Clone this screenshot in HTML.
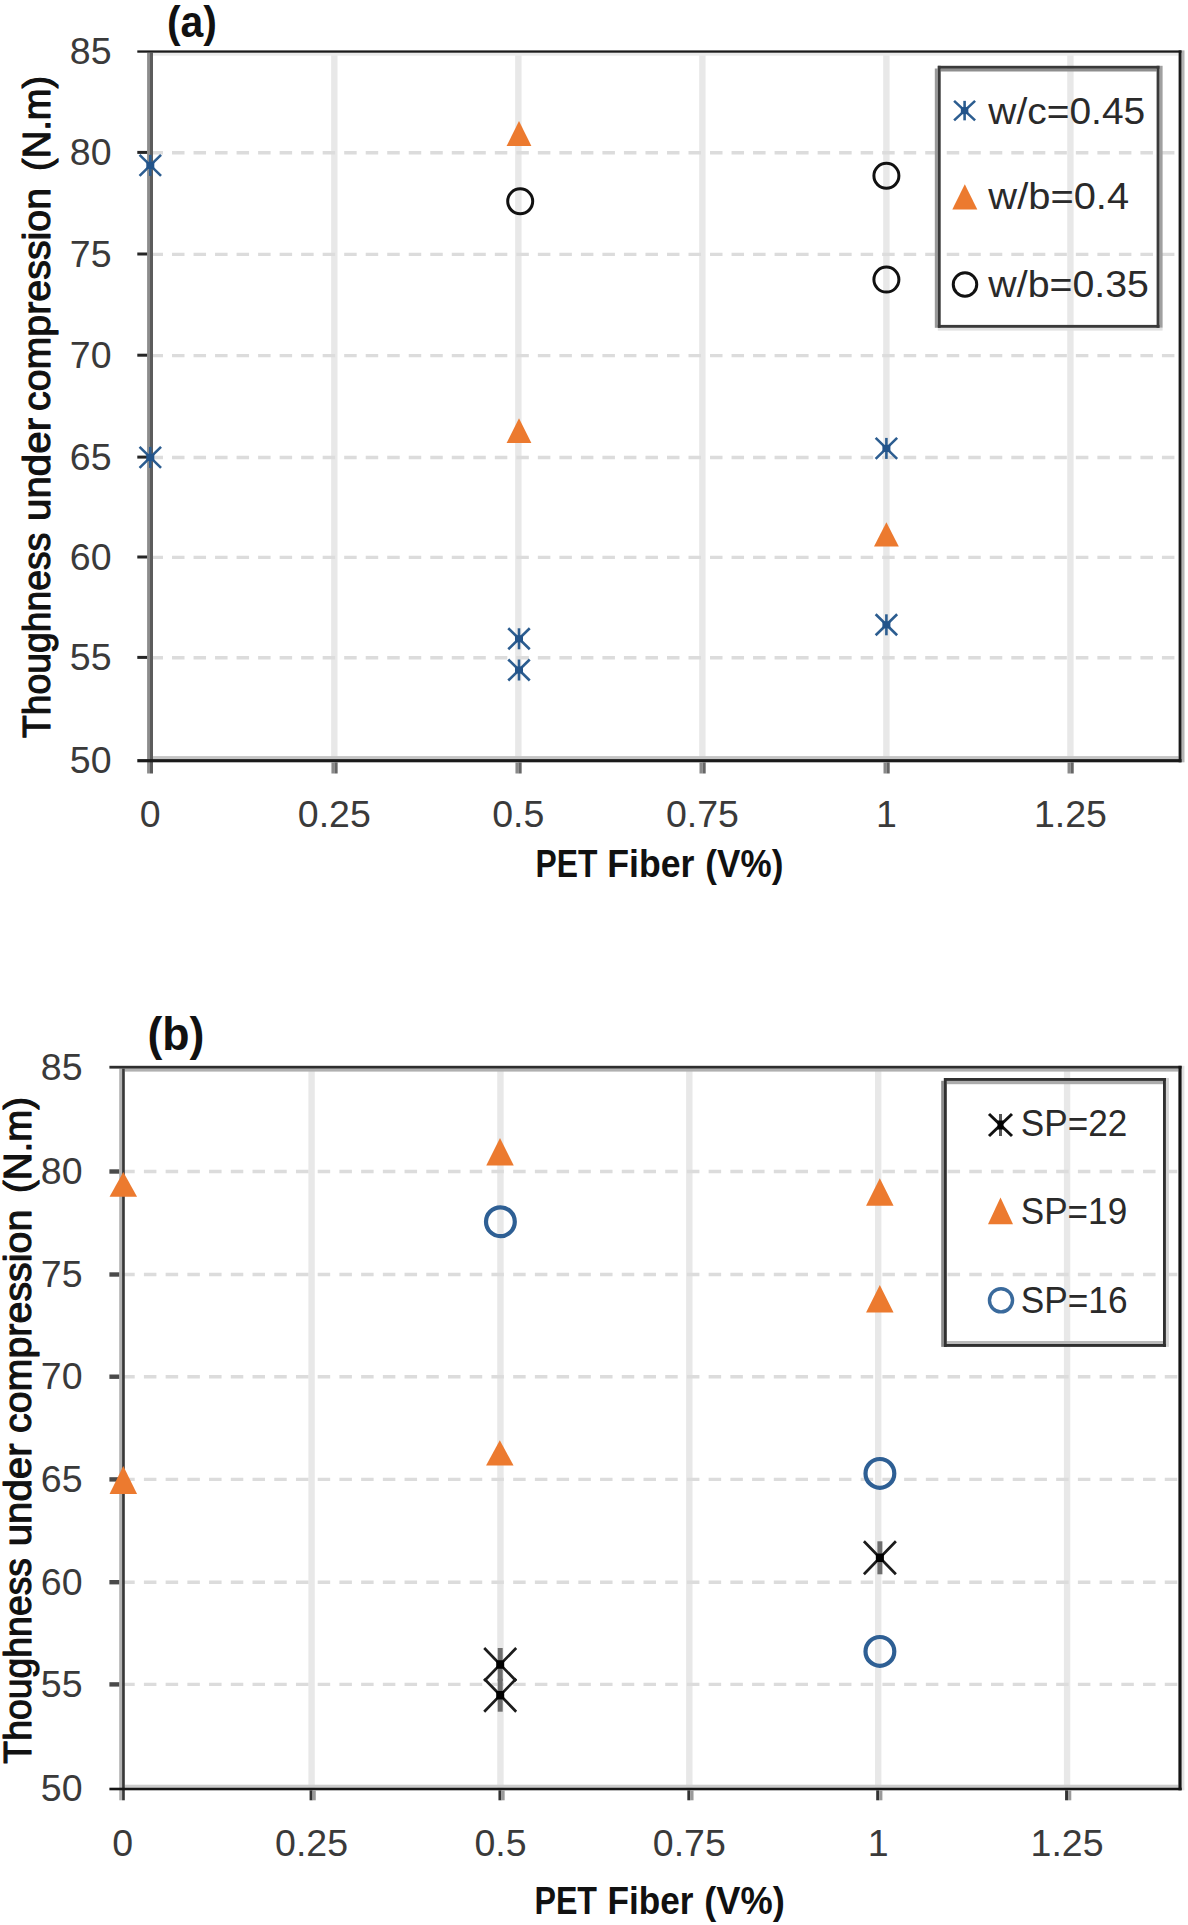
<!DOCTYPE html>
<html><head><meta charset="utf-8"><title>Toughness charts</title>
<style>
html,body{margin:0;padding:0;background:#fff;}
body{width:1188px;height:1925px;overflow:hidden;}
svg{display:block;}
text{font-family:"Liberation Sans",sans-serif;}
.tl{font-size:37.5px;fill:#3a3a3a;}
.lg{font-size:37.5px;fill:#2a2a2a;}
.at{font-size:38.5px;fill:#111;stroke:#111;stroke-width:1.1px;stroke-linejoin:round;}
.ab{font-size:38.5px;font-weight:bold;fill:#111;}
.ttl{font-size:44px;font-weight:bold;fill:#111;}
</style></head>
<body>
<svg width="1188" height="1925" viewBox="0 0 1188 1925">
<rect width="1188" height="1925" fill="#fff"/>
<rect x="331.13" y="52.7" width="6.4" height="706.4" fill="#e8e8e8"/>
<rect x="515.15" y="52.7" width="6.4" height="706.4" fill="#e8e8e8"/>
<rect x="699.17" y="52.7" width="6.4" height="706.4" fill="#e8e8e8"/>
<rect x="883.2" y="52.7" width="6.4" height="706.4" fill="#e8e8e8"/>
<rect x="1067.22" y="52.7" width="6.4" height="706.4" fill="#e8e8e8"/>
<line x1="150.5" y1="152.8" x2="1178.1" y2="152.8" stroke="#dcdcdc" stroke-width="3.4" stroke-dasharray="12.5 9.02"/>
<line x1="150.5" y1="254.4" x2="1178.1" y2="254.4" stroke="#dcdcdc" stroke-width="3.4" stroke-dasharray="12.5 9.02"/>
<line x1="150.5" y1="355.6" x2="1178.1" y2="355.6" stroke="#dcdcdc" stroke-width="3.4" stroke-dasharray="12.5 9.02"/>
<line x1="150.5" y1="457.5" x2="1178.1" y2="457.5" stroke="#dcdcdc" stroke-width="3.4" stroke-dasharray="12.5 9.02"/>
<line x1="150.5" y1="557.4" x2="1178.1" y2="557.4" stroke="#dcdcdc" stroke-width="3.4" stroke-dasharray="12.5 9.02"/>
<line x1="150.5" y1="657.8" x2="1178.1" y2="657.8" stroke="#dcdcdc" stroke-width="3.4" stroke-dasharray="12.5 9.02"/>
<rect x="153" y="52.7" width="1025.6" height="3" fill="#ebebeb"/>
<rect x="153" y="756.1" width="1025.6" height="3" fill="#c4c4c4"/>
<rect x="1181.5" y="50.4" width="3" height="711.9" fill="#b4b4b4"/>
<rect x="147.1" y="52.7" width="2.9" height="720.8" fill="#8c8c8c"/>
<rect x="150" y="52.7" width="3" height="720.8" fill="#5c5c5c"/>
<rect x="137.3" y="150.9" width="9.8" height="3" fill="#262626"/>
<rect x="137.3" y="252.5" width="9.8" height="3" fill="#262626"/>
<rect x="137.3" y="353.7" width="9.8" height="3" fill="#262626"/>
<rect x="137.3" y="455.6" width="9.8" height="3" fill="#262626"/>
<rect x="137.3" y="555.5" width="9.8" height="3" fill="#262626"/>
<rect x="137.3" y="655.9" width="9.8" height="3" fill="#262626"/>
<rect x="137.3" y="50.4" width="1044.2" height="2.3" fill="#1a1a1a"/>
<rect x="137.3" y="759.1" width="1044.2" height="3.2" fill="#1a1a1a"/>
<rect x="1178.6" y="50.4" width="2.9" height="711.9" fill="#1a1a1a"/>
<rect x="331.43" y="762.3" width="3" height="11.2" fill="#8a8a8a"/>
<rect x="334.43" y="762.3" width="3.2" height="11.2" fill="#666666"/>
<rect x="515.45" y="762.3" width="3" height="11.2" fill="#8a8a8a"/>
<rect x="518.45" y="762.3" width="3.2" height="11.2" fill="#666666"/>
<rect x="699.48" y="762.3" width="3" height="11.2" fill="#8a8a8a"/>
<rect x="702.48" y="762.3" width="3.2" height="11.2" fill="#666666"/>
<rect x="883.5" y="762.3" width="3" height="11.2" fill="#8a8a8a"/>
<rect x="886.5" y="762.3" width="3.2" height="11.2" fill="#666666"/>
<rect x="1067.52" y="762.3" width="3" height="11.2" fill="#8a8a8a"/>
<rect x="1070.52" y="762.3" width="3.2" height="11.2" fill="#666666"/>
<text x="111.5" y="64" text-anchor="end" class="tl">85</text>
<text x="111.5" y="165.3" text-anchor="end" class="tl">80</text>
<text x="111.5" y="266.9" text-anchor="end" class="tl">75</text>
<text x="111.5" y="368.1" text-anchor="end" class="tl">70</text>
<text x="111.5" y="470" text-anchor="end" class="tl">65</text>
<text x="111.5" y="569.9" text-anchor="end" class="tl">60</text>
<text x="111.5" y="670.3" text-anchor="end" class="tl">55</text>
<text x="111.5" y="773" text-anchor="end" class="tl">50</text>
<text x="150.3" y="827" text-anchor="middle" class="tl">0</text>
<text x="334.33" y="827" text-anchor="middle" class="tl">0.25</text>
<text x="518.35" y="827" text-anchor="middle" class="tl">0.5</text>
<text x="702.38" y="827" text-anchor="middle" class="tl">0.75</text>
<text x="886.4" y="827" text-anchor="middle" class="tl">1</text>
<text x="1070.42" y="827" text-anchor="middle" class="tl">1.25</text>
<text x="167" y="36.5" class="ttl" textLength="50" lengthAdjust="spacingAndGlyphs">(a)</text>
<text transform="translate(49.7 737.2) rotate(-90)" x="-0.84" y="0" class="at" textLength="205.39" lengthAdjust="spacingAndGlyphs">Thoughness</text>
<text transform="translate(49.7 518.4) rotate(-90)" x="-2.62" y="0" class="at" textLength="103.09" lengthAdjust="spacingAndGlyphs">under</text>
<text transform="translate(49.7 409.3) rotate(-90)" x="-1.67" y="0" class="at" textLength="223.03" lengthAdjust="spacingAndGlyphs">compression</text>
<text transform="translate(49.7 168.7) rotate(-90)" x="-2.36" y="0" class="at" textLength="95.23" lengthAdjust="spacingAndGlyphs">(N.m)</text>
<text x="535.57" y="876.6" class="ab" textLength="61.87" lengthAdjust="spacingAndGlyphs">PET</text>
<text x="607.32" y="876.6" class="ab" textLength="87.12" lengthAdjust="spacingAndGlyphs">Fiber</text>
<text x="705.35" y="876.6" class="ab" textLength="78" lengthAdjust="spacingAndGlyphs">(V%)</text>
<rect x="934.8" y="68.5" width="3" height="259.3" fill="#9a9a9a"/>
<rect x="940.7" y="68.6" width="215.9" height="2.9" fill="#8e8e8e"/>
<rect x="1159.5" y="65.8" width="3.1" height="262" fill="#a0a0a0"/>
<rect x="937.8" y="327.8" width="224.8" height="2.8" fill="#e2e2e2"/>
<rect x="937.8" y="65.8" width="221.7" height="2.9" fill="#3a3a3a"/>
<rect x="937.8" y="324.9" width="221.7" height="2.9" fill="#3a3a3a"/>
<rect x="937.8" y="65.8" width="2.9" height="262" fill="#3a3a3a"/>
<rect x="1156.6" y="65.8" width="2.9" height="262" fill="#3a3a3a"/>
<path d="M954.1 100.85L975.1 120.35M975.1 100.85L954.1 120.35" stroke="#2c5d90" stroke-width="2.6" fill="none"/><path d="M964.6 100.85L964.6 120.35" stroke="#2c5d90" stroke-width="2.6" fill="none"/><rect x="960.85" y="107.1" width="7.5" height="7" fill="#23548a"/>
<path d="M964.8 184.3L977.3 209.4L952.3 209.4Z" fill="#ec7a2f"/>
<circle cx="965" cy="284.5" r="11.75" fill="none" stroke="#111" stroke-width="3"/>
<text x="988.36" y="124.3" class="lg" textLength="156.88" lengthAdjust="spacingAndGlyphs">w/c=0.45</text>
<text x="988.36" y="209.4" class="lg" textLength="140.71" lengthAdjust="spacingAndGlyphs">w/b=0.4</text>
<text x="988.36" y="296.7" class="lg" textLength="160.59" lengthAdjust="spacingAndGlyphs">w/b=0.35</text>
<path d="M139.55 154.9L161.05 175.9M161.05 154.9L139.55 175.9" stroke="#2c5d90" stroke-width="2.6" fill="none"/><path d="M150.3 154.9L150.3 175.9" stroke="#2c5d90" stroke-width="2.6" fill="none"/><rect x="146.3" y="161.9" width="8" height="7" fill="#23548a"/>
<path d="M139.55 446.9L161.05 467.9M161.05 446.9L139.55 467.9" stroke="#2c5d90" stroke-width="2.6" fill="none"/><path d="M150.3 446.9L150.3 467.9" stroke="#2c5d90" stroke-width="2.6" fill="none"/><rect x="146.3" y="453.9" width="8" height="7" fill="#23548a"/>
<path d="M508.25 628.3L529.75 649.3M529.75 628.3L508.25 649.3" stroke="#2c5d90" stroke-width="2.6" fill="none"/><path d="M519 628.3L519 649.3" stroke="#2c5d90" stroke-width="2.6" fill="none"/><rect x="515" y="635.3" width="8" height="7" fill="#23548a"/>
<path d="M508.25 659.5L529.75 680.5M529.75 659.5L508.25 680.5" stroke="#2c5d90" stroke-width="2.6" fill="none"/><path d="M519 659.5L519 680.5" stroke="#2c5d90" stroke-width="2.6" fill="none"/><rect x="515" y="666.5" width="8" height="7" fill="#23548a"/>
<path d="M875.65 437.9L897.15 458.9M897.15 437.9L875.65 458.9" stroke="#2c5d90" stroke-width="2.6" fill="none"/><path d="M886.4 437.9L886.4 458.9" stroke="#2c5d90" stroke-width="2.6" fill="none"/><rect x="882.4" y="444.9" width="8" height="7" fill="#23548a"/>
<path d="M875.65 614.3L897.15 635.3M897.15 614.3L875.65 635.3" stroke="#2c5d90" stroke-width="2.6" fill="none"/><path d="M886.4 614.3L886.4 635.3" stroke="#2c5d90" stroke-width="2.6" fill="none"/><rect x="882.4" y="621.3" width="8" height="7" fill="#23548a"/>
<path d="M519 121L531.4 146L506.6 146Z" fill="#ec7a2f"/>
<path d="M519 418.2L531.4 443.1L506.6 443.1Z" fill="#ec7a2f"/>
<path d="M886.4 522.2L898.8 546.6L874 546.6Z" fill="#ec7a2f"/>
<circle cx="520.2" cy="201.3" r="12.5" fill="none" stroke="#111" stroke-width="3"/>
<circle cx="886.4" cy="175.8" r="12.5" fill="none" stroke="#111" stroke-width="3"/>
<circle cx="886.4" cy="279.6" r="12.5" fill="none" stroke="#111" stroke-width="3"/>
<rect x="308.38" y="1068.6" width="6.4" height="719.1" fill="#e8e8e8"/>
<rect x="497.25" y="1068.6" width="6.4" height="719.1" fill="#e8e8e8"/>
<rect x="686.12" y="1068.6" width="6.4" height="719.1" fill="#e8e8e8"/>
<rect x="875" y="1068.6" width="6.4" height="719.1" fill="#e8e8e8"/>
<rect x="1063.88" y="1068.6" width="6.4" height="719.1" fill="#e8e8e8"/>
<line x1="122.2" y1="1171.5" x2="1177.9" y2="1171.5" stroke="#dcdcdc" stroke-width="3.4" stroke-dasharray="12.5 9.22"/>
<line x1="122.2" y1="1274.5" x2="1177.9" y2="1274.5" stroke="#dcdcdc" stroke-width="3.4" stroke-dasharray="12.5 9.22"/>
<line x1="122.2" y1="1376.7" x2="1177.9" y2="1376.7" stroke="#dcdcdc" stroke-width="3.4" stroke-dasharray="12.5 9.22"/>
<line x1="122.2" y1="1479.4" x2="1177.9" y2="1479.4" stroke="#dcdcdc" stroke-width="3.4" stroke-dasharray="12.5 9.22"/>
<line x1="122.2" y1="1582.2" x2="1177.9" y2="1582.2" stroke="#dcdcdc" stroke-width="3.4" stroke-dasharray="12.5 9.22"/>
<line x1="122.2" y1="1684.4" x2="1177.9" y2="1684.4" stroke="#dcdcdc" stroke-width="3.4" stroke-dasharray="12.5 9.22"/>
<rect x="124.8" y="1068.6" width="1053.6" height="3" fill="#b0b0b0"/>
<rect x="124.8" y="1784.7" width="1053.6" height="3" fill="#cccccc"/>
<rect x="1181.6" y="1065.8" width="2.8" height="724.5" fill="#e0e0e0"/>
<rect x="119.2" y="1068.6" width="2.9" height="731.7" fill="#b4b4b4"/>
<rect x="122.1" y="1068.6" width="2.7" height="731.7" fill="#383838"/>
<rect x="109.4" y="1169.3" width="9.8" height="4.4" fill="#4a4a4a"/>
<rect x="109.4" y="1272.3" width="9.8" height="4.4" fill="#4a4a4a"/>
<rect x="109.4" y="1374.5" width="9.8" height="4.4" fill="#4a4a4a"/>
<rect x="109.4" y="1477.2" width="9.8" height="4.4" fill="#4a4a4a"/>
<rect x="109.4" y="1580" width="9.8" height="4.4" fill="#4a4a4a"/>
<rect x="109.4" y="1682.2" width="9.8" height="4.4" fill="#4a4a4a"/>
<rect x="109.4" y="1065.8" width="1072.2" height="2.8" fill="#2e2e2e"/>
<rect x="109.4" y="1787.7" width="1072.2" height="2.6" fill="#151515"/>
<rect x="1178.4" y="1065.8" width="3.2" height="724.5" fill="#151515"/>
<rect x="309.57" y="1790.3" width="3" height="10" fill="#333333"/>
<rect x="312.57" y="1790.3" width="3.2" height="10" fill="#9a9a9a"/>
<rect x="498.45" y="1790.3" width="3" height="10" fill="#333333"/>
<rect x="501.45" y="1790.3" width="3.2" height="10" fill="#9a9a9a"/>
<rect x="687.33" y="1790.3" width="3" height="10" fill="#333333"/>
<rect x="690.33" y="1790.3" width="3.2" height="10" fill="#9a9a9a"/>
<rect x="876.2" y="1790.3" width="3" height="10" fill="#333333"/>
<rect x="879.2" y="1790.3" width="3.2" height="10" fill="#9a9a9a"/>
<rect x="1065.08" y="1790.3" width="3" height="10" fill="#333333"/>
<rect x="1068.08" y="1790.3" width="3.2" height="10" fill="#9a9a9a"/>
<text x="82.5" y="1079.6" text-anchor="end" class="tl">85</text>
<text x="82.5" y="1183.9" text-anchor="end" class="tl">80</text>
<text x="82.5" y="1286.9" text-anchor="end" class="tl">75</text>
<text x="82.5" y="1389.1" text-anchor="end" class="tl">70</text>
<text x="82.5" y="1491.8" text-anchor="end" class="tl">65</text>
<text x="82.5" y="1594.6" text-anchor="end" class="tl">60</text>
<text x="82.5" y="1696.8" text-anchor="end" class="tl">55</text>
<text x="82.5" y="1801.3" text-anchor="end" class="tl">50</text>
<text x="122.7" y="1856.3" text-anchor="middle" class="tl">0</text>
<text x="311.57" y="1856.3" text-anchor="middle" class="tl">0.25</text>
<text x="500.45" y="1856.3" text-anchor="middle" class="tl">0.5</text>
<text x="689.33" y="1856.3" text-anchor="middle" class="tl">0.75</text>
<text x="878.2" y="1856.3" text-anchor="middle" class="tl">1</text>
<text x="1067.08" y="1856.3" text-anchor="middle" class="tl">1.25</text>
<text x="147.5" y="1049.6" class="ttl" style="font-size:46px" textLength="57" lengthAdjust="spacingAndGlyphs">(b)</text>
<text transform="translate(31.1 1762.8) rotate(-90)" x="-0.84" y="0" class="at" textLength="205.69" lengthAdjust="spacingAndGlyphs">Thoughness</text>
<text transform="translate(31.1 1543.7) rotate(-90)" x="-2.61" y="0" class="at" textLength="102.98" lengthAdjust="spacingAndGlyphs">under</text>
<text transform="translate(31.1 1431.4) rotate(-90)" x="-1.68" y="0" class="at" textLength="223.54" lengthAdjust="spacingAndGlyphs">compression</text>
<text transform="translate(31.1 1190.6) rotate(-90)" x="-2.38" y="0" class="at" textLength="95.96" lengthAdjust="spacingAndGlyphs">(N.m)</text>
<text x="534.45" y="1914.3" class="ab" textLength="62.6" lengthAdjust="spacingAndGlyphs">PET</text>
<text x="607.55" y="1914.3" class="ab" textLength="85.99" lengthAdjust="spacingAndGlyphs">Fiber</text>
<text x="704.3" y="1914.3" class="ab" textLength="80.51" lengthAdjust="spacingAndGlyphs">(V%)</text>
<rect x="941.2" y="1080.8" width="2.7" height="266.1" fill="#8a8a8a"/>
<rect x="946.8" y="1080.8" width="216.2" height="3.4" fill="#ababab"/>
<rect x="1165.9" y="1078" width="3" height="268.9" fill="#d4d4d4"/>
<rect x="946.8" y="1341" width="216.2" height="3" fill="#bbbbbb"/>
<rect x="943.9" y="1078" width="222" height="2.9" fill="#303030"/>
<rect x="943.9" y="1344" width="222" height="2.9" fill="#303030"/>
<rect x="943.9" y="1078" width="2.9" height="268.9" fill="#303030"/>
<rect x="1163" y="1078" width="2.9" height="268.9" fill="#303030"/>
<path d="M989 1114L1012 1136M1012 1114L989 1136" stroke="#111" stroke-width="3" fill="none"/><path d="M1000.5 1114L1000.5 1136" stroke="#555" stroke-width="3" fill="none"/><rect x="997.5" y="1120.5" width="6" height="9" fill="#000"/>
<path d="M1000.5 1197.6L1013 1224.3L988 1224.3Z" fill="#ec7a2f"/>
<circle cx="1001" cy="1300.3" r="11.55" fill="none" stroke="#3a6a9c" stroke-width="3.4"/>
<text x="1020.8" y="1136.3" class="lg" textLength="106.46" lengthAdjust="spacingAndGlyphs">SP=22</text>
<text x="1020.81" y="1224" class="lg" textLength="106.36" lengthAdjust="spacingAndGlyphs">SP=19</text>
<text x="1020.8" y="1313" class="lg" textLength="106.75" lengthAdjust="spacingAndGlyphs">SP=16</text>
<path d="M484.2 1648L516.2 1681M516.2 1648L484.2 1681" stroke="#1c1c1c" stroke-width="2.7" fill="none"/><path d="M500.2 1648L500.2 1681" stroke="#6e6e6e" stroke-width="5" fill="none"/><rect x="496.2" y="1660.25" width="8" height="8.5" fill="#000"/>
<path d="M484.2 1678.7L516.2 1711.7M516.2 1678.7L484.2 1711.7" stroke="#1c1c1c" stroke-width="2.7" fill="none"/><path d="M500.2 1678.7L500.2 1711.7" stroke="#6e6e6e" stroke-width="5" fill="none"/><rect x="496.2" y="1690.95" width="8" height="8.5" fill="#000"/>
<path d="M863.9 1541.3L895.9 1574.3M895.9 1541.3L863.9 1574.3" stroke="#1c1c1c" stroke-width="2.7" fill="none"/><path d="M879.9 1541.3L879.9 1574.3" stroke="#6e6e6e" stroke-width="5" fill="none"/><rect x="875.9" y="1553.55" width="8" height="8.5" fill="#000"/>
<path d="M123.3 1172.1L137.05 1196.8L109.55 1196.8Z" fill="#ec7a2f"/>
<path d="M123.3 1465.9L137.05 1493.9L109.55 1493.9Z" fill="#ec7a2f"/>
<path d="M500 1138.1L513.75 1165.5L486.25 1165.5Z" fill="#ec7a2f"/>
<path d="M499.8 1440.2L513.55 1465.6L486.05 1465.6Z" fill="#ec7a2f"/>
<path d="M879.8 1178.2L893.55 1205.8L866.05 1205.8Z" fill="#ec7a2f"/>
<path d="M879.8 1284.9L893.55 1312.5L866.05 1312.5Z" fill="#ec7a2f"/>
<circle cx="500.4" cy="1221.7" r="14.4" fill="none" stroke="#2e5f94" stroke-width="4.2"/>
<circle cx="879.9" cy="1473.4" r="14.4" fill="none" stroke="#2e5f94" stroke-width="4.2"/>
<circle cx="879.9" cy="1651.4" r="14.4" fill="none" stroke="#2e5f94" stroke-width="4.2"/>
</svg>
</body></html>
